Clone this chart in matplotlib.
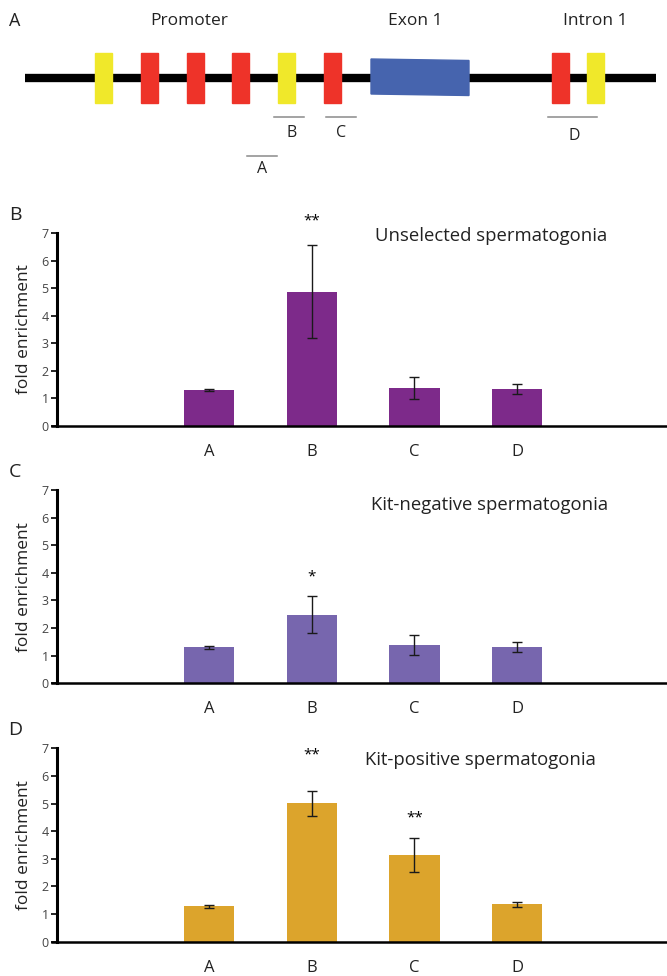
import numpy as np
import matplotlib
matplotlib.use('Agg')
import matplotlib.pyplot as plt
from matplotlib.patches import Rectangle, Polygon

plt.rcParams['font.family'] = ['Open Sans', 'DejaVu Sans']

# ---- data ----
regions = ['A', 'B', 'C', 'D']

unsel_mean = [1.30, 4.88, 1.38, 1.33]
unsel_err = [0.04, 1.70, 0.40, 0.17]
unsel_stars = ['', '**', '', '']

kitneg_mean = [1.30, 2.48, 1.38, 1.32]
kitneg_err = [0.04, 0.67, 0.37, 0.17]
kitneg_stars = ['', '*', '', '']

kitpos_mean = [1.28, 5.01, 3.14, 1.35]
kitpos_err = [0.05, 0.45, 0.63, 0.08]
kitpos_stars = ['', '**', '**', '']

# gene map (pixel units of the top strip)
site_x = [95, 141, 187, 232, 278, 324, 552, 587]
site_kind = ['y', 'r', 'r', 'r', 'y', 'r', 'r', 'y']
amplicon_x = [(247, 277), (274, 304), (326, 356), (548, 597)]
amplicon_y = [156, 117, 117, 117]
amplicon_lbl_xy = [(262, 169), (292, 133), (341, 133), (574, 136)]

W, H = 667, 976
fig = plt.figure(figsize=(W / 100, H / 100), dpi=100)

# ---- panel A: schematic ----
ax0 = fig.add_axes([0, 1 - 190 / H, 1, 190 / H])
ax0.set_xlim(0, W)
ax0.set_ylim(190, 0)
ax0.axis('off')
ax0.plot([25, 656], [77.5, 77.5], color='black', lw=6, solid_capstyle='butt', zorder=1)
ax0.add_patch(Polygon([(371, 59), (469, 60.5), (469, 95.5), (371, 94)],
                      closed=True, color='#4664ae', zorder=2))
for x, k in zip(site_x, site_kind):
    c = '#f0e82a' if k == 'y' else '#ee3329'
    ax0.add_patch(Rectangle((x, 53), 17, 49.5, color=c, zorder=3))
for (x1, x2), y, lbl, (lx, ly) in zip(amplicon_x, amplicon_y, regions, amplicon_lbl_xy):
    ax0.plot([x1, x2], [y, y], color='#8a8a8a', lw=1.1)
    ax0.text(lx, ly, lbl, ha='center', va='center', fontsize=11.5, color='#222222')
ax0.text(15, 21, 'A', ha='center', va='center', fontsize=13, color='#222222')
ax0.text(189, 21, 'Promoter', ha='center', va='center', fontsize=12.5, color='#222222')
ax0.text(415, 21, 'Exon 1', ha='center', va='center', fontsize=12.5, color='#222222')
ax0.text(595, 21, 'Intron 1', ha='center', va='center', fontsize=12.5, color='#222222')


def bar_panel(y0px, y7px, means, errs, stars, color, title, letter, title_xy, star_off):
    bottom = 1 - y0px / H
    height = (y0px - y7px) / H
    ax = fig.add_axes([57 / W, bottom, 1 - 57 / W, height])
    x = np.arange(len(regions))
    ax.bar(x, means, width=0.49, color=color, zorder=2)
    ax.errorbar(x, means, yerr=errs, fmt='none', ecolor='#1a1a1a',
                elinewidth=1.0, capsize=3.5, capthick=1.0, zorder=3)
    for xi, m, e, s, off in zip(x, means, errs, stars, star_off):
        if s:
            ax.annotate(s, (xi, m + e), xytext=(0, off), textcoords='offset points',
                        ha='center', va='center', fontsize=11, annotation_clip=False)
    ax.set_xlim(-1.48, 4.46)
    ax.set_ylim(0, 7)
    ax.set_xticks(x)
    ax.set_xticklabels(regions, fontsize=12, color='#222222')
    ax.tick_params(axis='x', length=0, pad=13)
    ax.set_yticks(range(8))
    ax.tick_params(axis='y', length=4, width=1.2, labelsize=9, pad=2, labelcolor='#444444')
    ax.spines['top'].set_visible(False)
    ax.spines['right'].set_visible(False)
    ax.spines['left'].set_linewidth(2.2)
    ax.spines['bottom'].set_linewidth(1.8)
    ax.spines['bottom'].set_bounds(-1.53, 4.46)
    ax.set_ylabel('fold enrichment', fontsize=12.5, labelpad=7, color='#222222')
    ax.text(title_xy[0], title_xy[1], title, transform=ax.transAxes, fontsize=13.3,
            ha='left', va='center', color='#222222')
    fig.text(15 / W, 1 - (y7px - 18) / H, letter, fontsize=14, ha='center',
             va='center', color='#222222')
    return ax


bar_panel(425.7, 233.3, unsel_mean, unsel_err, unsel_stars, '#7d2a8a',
          'Unselected spermatogonia', 'B', (0.522, 0.985), [0, 17, 0, 0])
bar_panel(683.3, 490.0, kitneg_mean, kitneg_err, kitneg_stars, '#7766ae',
          'Kit-negative spermatogonia', 'C', (0.515, 0.92), [0, 14, 0, 0])
bar_panel(941.7, 748.3, kitpos_mean, kitpos_err, kitpos_stars, '#dca42c',
          'Kit-positive spermatogonia', 'D', (0.505, 0.937), [0, 26, 14, 0])

fig.savefig('out.png', dpi=100)
